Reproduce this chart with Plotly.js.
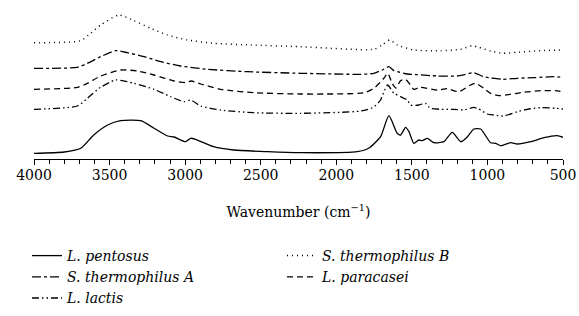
<!DOCTYPE html>
<html>
<head>
<meta charset="utf-8">
<script src="https://cdn.plot.ly/plotly-3.0.1.min.js"></script>
<style>html,body{margin:0;padding:0;background:#fff;}#chart{width:579px;height:316px;}</style>
</head>
<body>
<div id="chart"></div>
<script>
// Wavenumbers (cm^-1) and stacked (offset) absorbance values, arbitrary units
const pentosusX = [4000,3800,3691,3605,3513,3427,3294,3208,3116,3073,2997,2964,2931,2878,2812,2679,2455,2236,1861,1786,1707,1652,1597,1575,1541,1519,1487,1454,1431,1398,1354,1288,1233,1176,1132,1090,1045,979,946,913,847,802,714,626,538,500];
const pentosusY = [5.7,7,10.7,24,34,38.3,38.3,31,23,22,17.3,20.7,19.7,16.3,12.3,9,7.3,6.3,7.3,10.7,22.3,43.3,25.7,24,31.7,27.3,15.7,19,18.3,20.7,16.3,17.3,26.7,17.3,22.3,30,30,16.3,15.7,13.3,16.3,15,17.3,21.3,23.3,21.7];

const thermBX = [4000,3691,3625,3559,3438,3339,3228,3118,2985,2809,2566,2236,1751,1696,1647,1596,1487,1310,1178,1100,1057,979,902,803,649,500];
const thermBY = [116.3,118.3,125.7,134,144,138.3,130.7,124,119,115.7,114,112.3,109.7,114,119,114,109,108.3,109.7,113.3,111.7,108,105.7,106.7,108.3,109];

const thermAX = [4000,3713,3647,3559,3460,3382,3272,3162,3030,2853,2589,2236,1836,1751,1696,1652,1619,1586,1530,1464,1332,1200,1145,1090,1024,958,902,803,693,561,500];
const thermAY = [90.7,91.7,95.7,102.3,108.3,106.3,102.3,97.3,93,89.7,87.3,85.7,84.7,85.7,89,92.3,88.3,87,85,84.3,83,83,84.7,86.3,82.3,80.7,79.7,80.7,81.3,82.3,81.7];

const paracaseiX = [4000,3713,3647,3559,3427,3316,3206,3074,2997,2959,2897,2765,2545,2236,1817,1751,1685,1660,1630,1605,1575,1542,1509,1487,1443,1332,1266,1189,1112,1079,1024,979,924,847,759,649,549,500];
const paracaseiY = [69.7,71.7,75.7,83,89,88,84,78,76.3,78,75,69.7,66.3,65,66.3,70.7,80.7,85.7,75.7,71,78.3,79.7,74,69.7,71.7,69,70.3,67.3,74,75.7,70.7,65.7,63.3,64.7,66.7,68.3,68.3,67.3];

const lactisX = [4000,3713,3647,3559,3460,3339,3206,3096,3008,2964,2897,2765,2545,2236,1836,1751,1707,1685,1660,1619,1575,1530,1509,1454,1410,1377,1310,1222,1156,1090,1057,1001,958,892,803,737,649,549,500];
const lactisY = [49.7,53,60.7,71.7,79,75.7,69.7,62.3,57.3,59,53,49,46.3,45.7,48,52,59,67.3,74,65.7,62.3,59,54,54,55.7,50.7,49.7,49.7,49,51.7,50,45,44,43,47.3,49.7,51.3,50.7,50];

const names = ["L. pentosus","S. thermophilus B","S. thermophilus A","L. paracasei","L. lactis"];
const tickVals = [4000,3500,3000,2500,2000,1500,1000,500];

const serif = "DejaVu Serif";
function tr(x, y, name, dash, w) {
  return {x: x, y: y, name: name, type: "scatter", mode: "lines",
    line: {color: "#000", width: w, dash: dash, shape: "spline", smoothing: 0.6},
    hoverinfo: "skip"};
}
const data = [
  tr(pentosusX, pentosusY, names[0], "solid", 1.3),
  tr(thermBX, thermBY, names[1], "1px,4px", 1.5),
  tr(thermAX, thermAY, names[2], "dashdot", 1.3),
  tr(paracaseiX, paracaseiY, names[3], "6px,4px", 1.3),
  tr(lactisX, lactisY, names[4], "7px,3px,1.5px,3px,1.5px,3px", 1.3)
];
const layout = {
  width: 579, height: 316,
  margin: {l: 34, r: 16, t: 5, b: 157},
  paper_bgcolor: "#fff", plot_bgcolor: "#fff",
  font: {family: serif, size: 14, color: "#000"},
  xaxis: {
    range: [4000, 500], showgrid: false, zeroline: false,
    showline: true, linecolor: "#000", linewidth: 1,
    ticks: "outside", ticklen: 5, tickwidth: 1, tickcolor: "#000",
    tickvals: tickVals, ticktext: tickVals.map(String),
    ticklabelstandoff: -2,
    minor: {dtick: 100, ticks: "outside", ticklen: 4, tickwidth: 1, tickcolor: "#000"},
    tickfont: {family: serif, size: 14, color: "#000"},
    title: {text: "Wavenumber (cm<sup>−1</sup>)", font: {family: serif, size: 14, color: "#000"}, standoff: 25}
  },
  yaxis: {range: [0, 154], visible: false, fixedrange: true},
  showlegend: true,
  legend: {
    orientation: "h", xref: "container", yref: "container",
    x: 27/579, y: 1 - 240/316, xanchor: "left", yanchor: "top",
    entrywidth: 210, entrywidthmode: "pixels",
    font: {family: serif, size: 14, color: "#000", style: "italic"},
    itemwidth: 30, bgcolor: "rgba(0,0,0,0)", traceorder: "normal"
  }
};
Plotly.newPlot("chart", data, layout, {staticPlot: true, displayModeBar: false});
</script>
</body>
</html>
